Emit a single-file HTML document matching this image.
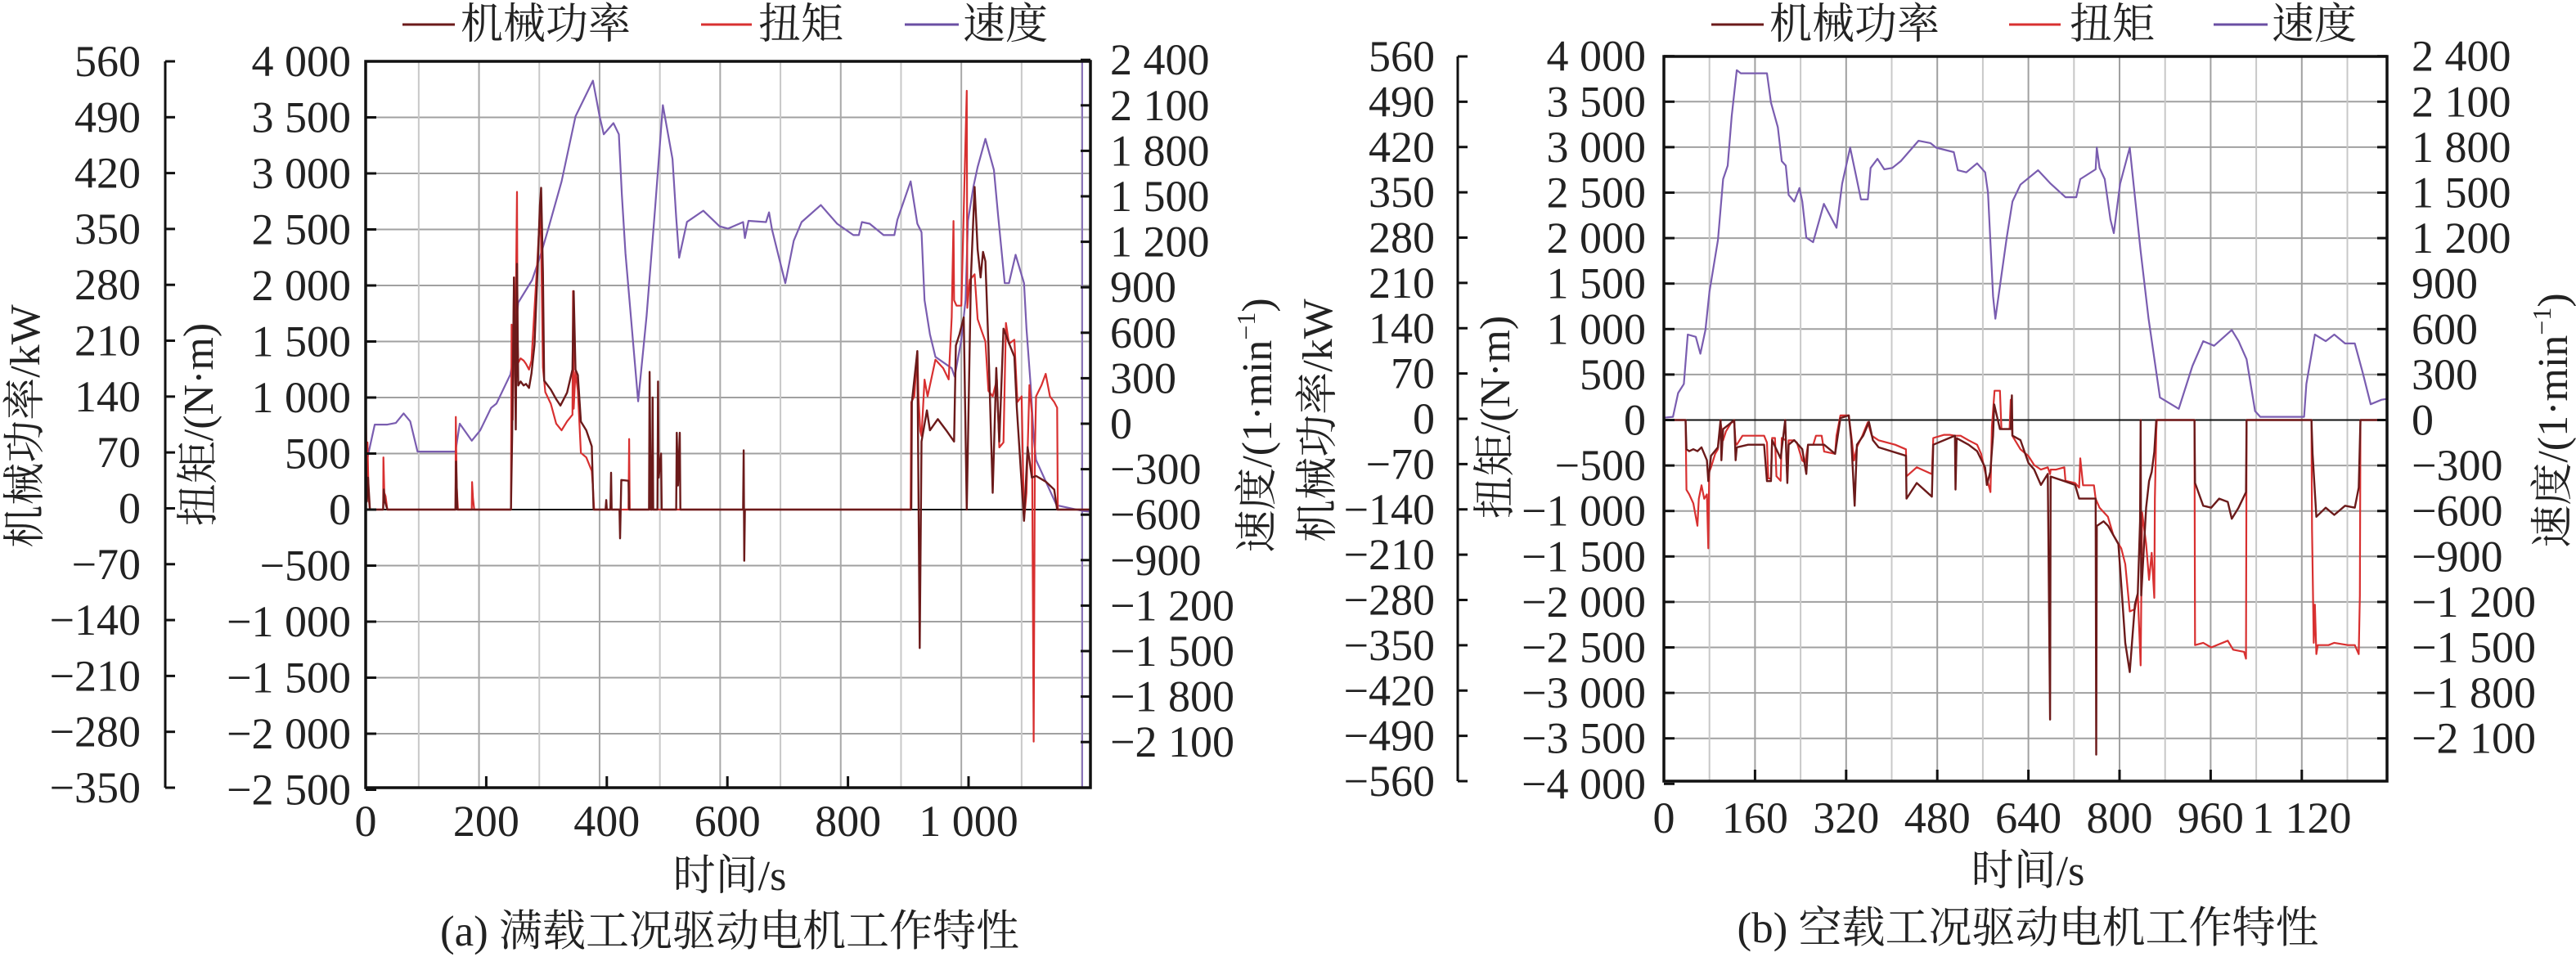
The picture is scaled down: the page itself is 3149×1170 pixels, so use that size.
<!DOCTYPE html>
<html><head><meta charset="utf-8"><title>驱动电机工作特性</title>
<style>
html,body{margin:0;padding:0;background:#fff;}
svg{display:block;}
text{font-family:"Liberation Serif","Noto Serif CJK SC",serif;fill:#222;}
</style></head>
<body>
<svg id="chart" width="3149" height="1170" viewBox="0 0 3149 1170" xmlns="http://www.w3.org/2000/svg">
<defs>
<clipPath id="clipA"><rect x="447" y="75" width="886" height="890"/></clipPath>
<clipPath id="clipB"><rect x="2034" y="69" width="884" height="886"/></clipPath>
</defs>
<g id="gridA"></g>
<g id="gridB"></g>
<g id="seriesA" clip-path="url(#clipA)"></g>
<g id="seriesB" clip-path="url(#clipB)"></g>
<g id="axesA"></g>
<g id="axesB"></g>

<g>
<g><line x1="492" y1="30" x2="556" y2="30" stroke="#6b1a1a" stroke-width="3"/><text x="563" y="47" font-size="52">机械功率</text></g>
<g><line x1="857" y1="30" x2="919" y2="30" stroke="#d83030" stroke-width="3"/><text x="927" y="47" font-size="52">扭矩</text></g>
<g><line x1="1106" y1="30" x2="1172" y2="30" stroke="#6a4fa3" stroke-width="3"/><text x="1177" y="47" font-size="52">速度</text></g>
</g>
<g>
<g><line x1="2092" y1="30" x2="2156" y2="30" stroke="#6b1a1a" stroke-width="3"/><text x="2163" y="47" font-size="52">机械功率</text></g>
<g><line x1="2456" y1="30" x2="2519" y2="30" stroke="#d83030" stroke-width="3"/><text x="2530" y="47" font-size="52">扭矩</text></g>
<g><line x1="2706" y1="30" x2="2772" y2="30" stroke="#6a4fa3" stroke-width="3"/><text x="2777" y="47" font-size="52">速度</text></g>
</g>

<text font-size="52" text-anchor="middle" transform="translate(48,521) rotate(-90)">机械功率/kW</text>
<text font-size="52" text-anchor="middle" transform="translate(260,519) rotate(-90)">扭矩/(N·m)</text>
<text font-size="52" text-anchor="middle" transform="translate(1554,520) rotate(-90)">速度/(1·min<tspan font-size="32" dy="-20">−1</tspan><tspan dy="20">)</tspan></text>
<text font-size="52" text-anchor="middle" x="892" y="1088">时间/s</text>
<text font-size="53" text-anchor="middle" x="892" y="1156">(a) 满载工况驱动电机工作特性</text>

<text font-size="52" text-anchor="middle" transform="translate(1628,514) rotate(-90)">机械功率/kW</text>
<text font-size="52" text-anchor="middle" transform="translate(1845,510) rotate(-90)">扭矩/(N·m)</text>
<text font-size="52" text-anchor="middle" transform="translate(3138,514) rotate(-90)">速度/(1·min<tspan font-size="32" dy="-20">−1</tspan><tspan dy="20">)</tspan></text>
<text font-size="52" text-anchor="middle" x="2479" y="1082">时间/s</text>
<text font-size="53" text-anchor="middle" x="2479" y="1152">(b) 空载工况驱动电机工作特性</text>
</svg>

<script>
// ---------- Chart (a) data: 满载 ----------
const aSpeedTime = [0,4,15,36,50,63,74,86,149,156,176,190,208,217,240,244,253,276,291,303,325,348,377,388,395,411,420,425,431,443,452,466,480,493,509,515,520,533,560,587,601,626,629,635,664,669,674,696,710,723,755,782,809,818,823,836,859,877,882,904,915,922,927,936,945,972,977,988,995,999,1008,1015,1028,1042,1049,1060,1067,1078,1092,1096,1103,1108,1112,1146,1189,1202];
const aSpeed = [-300,-207,-6,-6,5,68,15,-184,-184,0,-112,-44,104,133,325,414,799,947,1124,1287,1598,2027,2263,2027,1909,1983,1909,1509,1124,562,148,710,1420,2101,1746,1361,1095,1331,1405,1302,1287,1330,1225,1338,1330,1394,1282,927,1207,1330,1442,1319,1244,1244,1330,1319,1244,1244,1345,1599,1319,1263,815,590,441,366,310,553,815,1338,1562,1693,1879,1674,1375,927,927,1114,927,628,254,-90,-239,-538,-575,-580];

const aTorqueTime = [0,0.5,2,3,5,7,29,29.5,31,33,36,149,149.5,151,153,176,176.5,178,180,241,242,244,246,248,251,252,253,257,262,266,271,275,280,285,289,291,294,298,307,316,325,334,343,344,345,348,352,357,366,375,377,379,436,437,438,904,905,910,915,917,920,922,927,932,945,958,967,972,975,976,980,988,997,998,1002,1010,1015,1022,1028,1033,1040,1047,1051,1058,1062,1067,1076,1081,1088,1092,1096,1101,1105,1108,1110,1112,1121,1128,1135,1142,1147,1148,1202];
const aTorque = [0,790,200,600,100,0,0,466,150,120,0,0,827,207,0,0,245,100,0,0,1650,800,2070,1300,2835,1500,1310,1350,1330,1300,1250,1330,1790,2230,2650,2400,1270,1048,945,767,707,787,847,1950,900,1230,1060,506,466,345,200,0,0,630,0,0,960,1010,1414,1000,700,656,1160,1010,1338,1262,1161,1717,2575,1868,1820,1820,3737,1800,2050,2100,1700,1590,1500,1060,1010,1160,555,600,1666,1480,1515,960,1010,-100,150,1110,860,-2070,520,1010,1110,1212,1010,960,909,0,0];

const aPowerTime = [0,0.5,2,4,7,29,30,32,36,149,150,152,241,243,246,249,251,253,257,262,266,271,275,280,285,289,291,294,296,307,316,323,334,343,345,348,352,357,366,375,378,398,399,400,406,407,408,421,422,424,436,437,470,471,473,475,476,477,484,485,486,490,491,515,516,518,521,522,626,627,628,629,905,906,915,919,922,931,936,949,963,976,979,985,992,997,1004,1010,1015,1020,1024,1028,1033,1040,1046,1051,1058,1067,1076,1080,1092,1098,1105,1112,1128,1142,1147,1202];
const aPower = [0,60,10,40,0,0,25,10,0,0,60,0,0,93,290,100,307,155,160,155,157,152,170,206,296,380,402,296,161,150,138,130,146,175,273,175,168,110,99,79,0,0,12,0,0,46,0,0,-36,37,36,0,0,172,0,0,140,0,0,160,40,70,0,0,96,30,96,0,0,74,-64,0,0,134,198,-173,85,124,99,113,99,85,205,219,240,0,290,403,325,290,322,310,205,21,177,85,226,208,191,127,-14,78,40,42,35,25,0,0];

// ---------- Chart (b) data: 空载 ----------
const bSpeedTime = [0,16,25,35,42,56,64,73,80,95,104,112,119,128,135,181,188,200,207,214,219,229,238,243,250,262,281,303,313,327,337,346,358,363,375,387,401,416,447,468,478,509,516,531,550,564,569,578,582,593,602,612,626,657,679,705,724,731,758,760,765,774,784,790,801,818,825,837,851,871,904,928,947,966,997,1009,1023,1038,1047,1124,1128,1143,1162,1177,1196,1213,1227,1241,1260,1270];
const bSpeed = [15,21,178,238,564,549,437,594,846,1188,1589,1678,2005,2308,2287,2287,2094,1931,1708,1678,1485,1441,1530,1441,1203,1173,1426,1268,1559,1797,1619,1455,1455,1663,1723,1654,1663,1708,1842,1827,1797,1767,1648,1634,1693,1634,1500,817,668,965,1203,1441,1553,1648,1559,1470,1470,1589,1654,1797,1663,1589,1322,1233,1559,1797,1545,1114,668,149,74,356,520,490,594,520,401,59,21,21,238,564,520,564,505,505,312,104,134,140];

const bTorqueTime = [0,0.3,0.8,38,39.7,44.5,51.7,58.9,61.3,66,70.8,75.6,78,79.5,82.8,90,94.8,99.6,104,109,118.7,123.5,126,128,138,161.8,176,181,183.3,188,190,195,197.7,205,207,214,216.8,219,228.8,233.6,243,248,253,262.3,267,277,281.4,300.6,303,310,324.6,329,334,339,348.5,358,365,377,406,425,426,444,470.5,473,492,502,511,521,535,550,557,564,573.4,576,580.6,590,592.6,607,609,611.7,626,640,650,662,674,678,679,688.6,703,705,722,729,731,736,755,758,765,779.6,789,803,810,818,827,832,837,839.6,846.7,851.8,856.5,861,862,864.5,865.5,931.5,932.5,947,961,990,999.5,1018.6,1022,1023,1137,1138,1140.9,1143,1145.6,1148,1167,1177,1201,1213,1220,1222,1223,1270];
const bTorque = [0,-4000,0,0,-767,-817,-916,-1163,-866,-718,-866,-817,-1411,-569,-520,-371,-322,-25,-223,-124,-25,-25,-248,-272,-173,-173,-173,-248,-643,-643,-198,-198,-619,-668,-198,-223,-668,-223,-223,-248,-445,-470,-272,-272,-173,-173,-347,-371,-173,50,50,-173,-445,-297,-173,-25,-173,-223,-272,-322,-619,-520,-594,-198,-163,-163,-173,-173,-223,-272,-371,-569,-792,-74,322,322,-99,-99,223,-173,-322,-396,-495,-545,-520,-594,-545,-545,-520,-668,-693,-743,-421,-718,-718,-866,-965,-1064,-1262,-1411,-1584,-2104,-2079,-1906,-2698,-1015,-1361,-1757,-1460,-1955,-866,-124,0,0,-2475,-2450,-2500,-2426,-2525,-2549,-2624,0,0,-1200,-2450,-2030,-2574,-2475,-2475,-2450,-2475,-2475,-2574,-1930,0,0];

const bPowerTime = [0,0.3,0.8,38,39.7,44.5,51.7,58.9,66,70.8,75.6,78,82.8,94.8,99.6,101,104,114,123.5,126,128,148,176,181,188,190,205,213,216.8,219,228.8,243,250,253,281.4,300.6,310,324.6,329,335,339,350,360,367,377,425,426,444,470.5,473,511,512,514,535,550,564,567,573,578,580,590,609,611,612,626,640,650,662,674,678,679,703,722,729,755,758,759,760,772,780,789,798,803,810,818,823,827,832,836,837,838,846.7,851.8,856.5,861,864.5,931.5,932.5,947,961,975,990,997,1009,1022,1023,1137,1139,1145.6,1162,1177,1196,1213,1220,1223,1270];
const bPower = [0,-560,0,0,-45,-48,-45,-48,-42,-52,-62,-94,-55,-42,0,-62,-14,-7,0,-62,-42,-38,-38,-94,-94,-31,-59,0,-97,-38,-31,-45,-83,-38,-38,-52,3,7,-31,-132,-38,-24,-3,-31,-42,-55,-121,-97,-118,-38,-24,-107,-28,-38,-48,-73,-100,-80,-24,24,-14,-14,38,-24,-31,-66,-76,-100,-83,-461,-87,-94,-100,-121,-121,-121,-515,-163,-156,-163,-177,-191,-253,-343,-388,-330,-284,-267,-156,0,-270,-135,-94,-80,-49,0,0,-97,-132,-135,-121,-126,-152,-135,-111,0,0,-52,-149,-135,-146,-132,-135,-104,0,0];

// ---------- tick label arrays ----------
const aTorqueTicks = [4000,3500,3000,2500,2000,1500,1000,500,0,-500,-1000,-1500,-2000,-2500];
const aPowerTicks = [560,490,420,350,280,210,140,70,0,-70,-140,-210,-280,-350];
const aSpeedTicks = [2400,2100,1800,1500,1200,900,600,300,0,-300,-600,-900,-1200,-1500,-1800,-2100];
const aTimeTicks = [0,200,400,600,800,1000];
const bTorqueTicks = [4000,3500,3000,2500,2000,1500,1000,500,0,-500,-1000,-1500,-2000,-2500,-3000,-3500,-4000];
const bPowerTicks = [560,490,420,350,280,210,140,70,0,-70,-140,-210,-280,-350,-420,-490,-560];
const bSpeedTicks = [2400,2100,1800,1500,1200,900,600,300,0,-300,-600,-900,-1200,-1500,-1800,-2100];
const bTimeTicks = [0,160,320,480,640,800,960,1120];

const A = {x0:447,x1:1333,y0:75,y1:963,
  x:t=>447+t*0.737, yT:v=>623-v*68.5/500, yP:p=>623-p*68.5/70, yS:s=>518-s*55.6/300};
const B = {x0:2034,x1:2918,y0:69,y1:955,
  x:t=>2034+t*111.4/160, yT:v=>513.5-v*55.6/500, yP:p=>513.5-p*55.6/70, yS:s=>513.5-s*55.6/300};

const NS='http://www.w3.org/2000/svg';
function mk(tag,attrs,parent){const e=document.createElementNS(NS,tag);for(const k in attrs)e.setAttribute(k,attrs[k]);parent.appendChild(e);return e;}
function fmt(v){const neg=v<0;let s=String(Math.abs(v));if(s.length>3)s=s.slice(0,s.length-3)+' '+s.slice(-3);return (neg?'−':'')+s;}
function pathFrom(ts,vs,sx,sy){let d='';for(let i=0;i<ts.length;i++){d+=(i?'L':'M')+sx(ts[i]).toFixed(1)+' '+sy(vs[i]).toFixed(1);}return d;}

function gridA(){
  const g=document.getElementById('gridA');
  aTorqueTicks.forEach(v=>{if(v===4000||v===-2500||v===0)return;const y=A.yT(v);
    const l=mk('line',{x1:A.x0,x2:A.x1,y1:y,y2:y,stroke:'#a0a0a0','stroke-width':2},g);
    
    });
  for(let t=88;t<1200;t+=100){const x=A.x(t);
    const l=mk('line',{x1:x,x2:x,y1:A.y0,y2:A.y1,stroke:(Math.round((t-88)/100)%2? '#a8a8a8':'#c8c8c8'),'stroke-width':2},g);
    
    }
  const pl=mk('line',{x1:1323,x2:1323,y1:A.y0,y2:A.y1,stroke:'#8a74bb','stroke-width':2},g);
  
  
}
function gridB(){
  const g=document.getElementById('gridB');
  bTorqueTicks.forEach(v=>{if(v===4000||v===-4000||v===0)return;const y=B.yT(v);
    const l=mk('line',{x1:B.x0,x2:B.x1,y1:y,y2:y,stroke:'#a0a0a0','stroke-width':2},g);
    
    });
  for(let t=80;t<1270;t+=80){const x=B.x(t);
    const l=mk('line',{x1:x,x2:x,y1:B.y0,y2:B.y1,stroke:(Math.round(t/80)%2? '#c8c8c8':'#a0a0a0'),'stroke-width':2},g);
    
    }
}

function series(gid,S,st,sv,tt,tv,pt,pv){
  const g=document.getElementById(gid);
  const z=mk('line',{x1:S.x0,x2:S.x1,y1:S.yT(0),y2:S.yT(0),stroke:'#111','stroke-width':2},g);
  
  
  const p1=mk('path',{d:pathFrom(st,sv,S.x,S.yS),fill:'none',stroke:'#7a5db0','stroke-width':2.2,'stroke-linejoin':'round'},g);
  
  
  const p2=mk('path',{d:pathFrom(tt,tv,S.x,S.yT),fill:'none',stroke:'#d83030','stroke-width':2.2,'stroke-linejoin':'round'},g);
  
  
  const p3=mk('path',{d:pathFrom(pt,pv,S.x,S.yP),fill:'none',stroke:'#6b1a1a','stroke-width':2.4,'stroke-linejoin':'round'},g);
  
  
}

function axes(gid,S,powerX,powerLabelX,torqueLabelX,speedLabelX,torqueTicks,powerTicks,speedTicks,timeTicks,xLabelY){
  const g=document.getElementById(gid);
  const box=mk('rect',{x:S.x0,y:S.y0,width:S.x1-S.x0,height:S.y1-S.y0,fill:'none',stroke:'#111','stroke-width':3.5},g);
  
  
  const pa=mk('line',{x1:powerX,x2:powerX,y1:S.y0,y2:S.y1,stroke:'#111','stroke-width':3},g);
  
  
  const n=powerTicks.length;
  powerTicks.forEach((v,i)=>{const y=S.y0+(S.y1-S.y0)*i/(n-1);
    mk('line',{x1:powerX,x2:powerX+12,y1:y,y2:y,stroke:'#111','stroke-width':3},g);
    const t=mk('text',{x:powerLabelX,y:y+18,'font-size':54,'text-anchor':'end'},g);t.textContent=fmt(v);
    
    });
  torqueTicks.forEach(v=>{const y=S.yT(v);
    mk('line',{x1:S.x0,x2:S.x0+13,y1:y,y2:y,stroke:'#111','stroke-width':3},g);
    const t=mk('text',{x:torqueLabelX,y:y+18,'font-size':54,'text-anchor':'end'},g);t.textContent=fmt(v);
    
    });
  speedTicks.forEach(v=>{const y=S.yS(v);
    mk('line',{x1:S.x1-12,x2:S.x1,y1:y,y2:y,stroke:'#111','stroke-width':3},g);
    const t=mk('text',{x:speedLabelX,y:y+18,'font-size':54,'text-anchor':'start'},g);t.textContent=fmt(v);
    
    });
  timeTicks.forEach(v=>{const x=S.x(v);
    mk('line',{x1:x,x2:x,y1:S.y1-14,y2:S.y1,stroke:'#111','stroke-width':3},g);
    const t=mk('text',{x:x,y:xLabelY,'font-size':54,'text-anchor':'middle'},g);t.textContent=fmt(v);
    
    });
}

gridA(); gridB();
series('seriesA',A,aSpeedTime,aSpeed,aTorqueTime,aTorque,aPowerTime,aPower);
series('seriesB',B,bSpeedTime,bSpeed,bTorqueTime,bTorque,bPowerTime,bPower);
axes('axesA',A,202,172,429,1357,aTorqueTicks,aPowerTicks,aSpeedTicks,aTimeTicks,1022);
axes('axesB',B,1782,1754,2012,2948,bTorqueTicks,bPowerTicks,bSpeedTicks,bTimeTicks,1018);
</script>
</body></html>
